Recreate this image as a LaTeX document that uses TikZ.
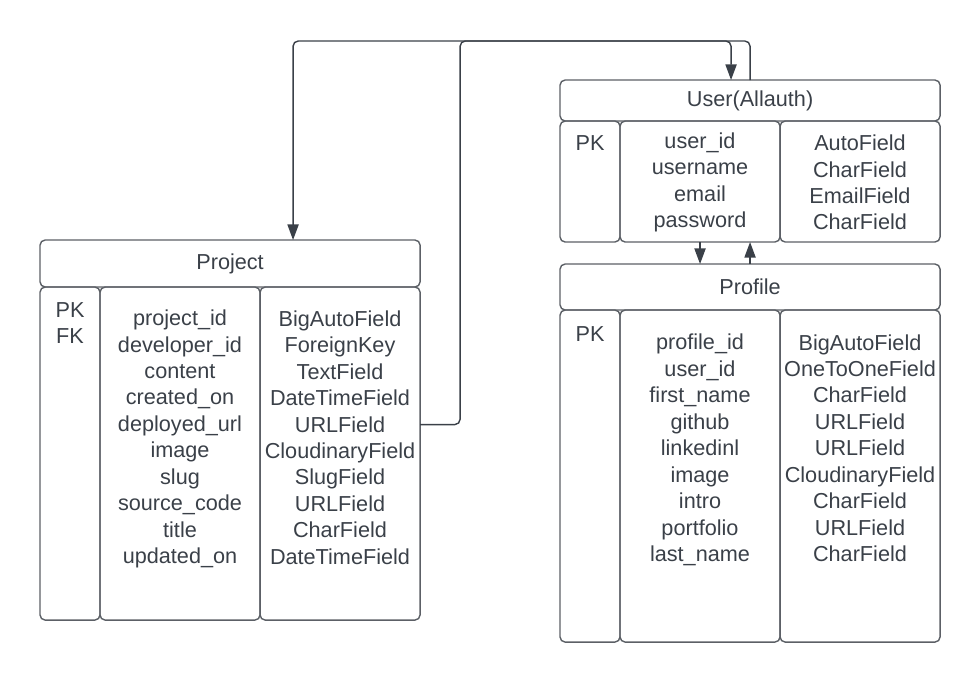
\documentclass[tikz,border=0pt]{standalone}
\usepackage{fontspec}
\setmainfont{Liberation Sans}
\usetikzlibrary{
  arrows.meta,
  positioning,  % right=of ...
  calc,         % $...$
}
\definecolor{ink}{RGB}{58,64,72}
\definecolor{rule}{RGB}{92,96,102}
\def\pkw{1.5cm}
\def\colw{4cm}
\def\tablew{9.5cm}
\tikzset{
  font=\fontsize{15.4pt}{18.8pt}\selectfont,
  text=ink,
  head/.style={
    draw=rule,
    line width=1pt,
    rounded corners=1.3mm,
    minimum width=\tablew,
    inner sep=0pt,
    outer sep=0pt
  },
  col/.style={
    draw=rule,
    line width=1pt,
    rounded corners=1.3mm,
    inner sep=0pt,
    outer sep=0pt
  },
  field text/.style={
    align=center,
    inner sep=0pt
  },
  link/.style={
    draw=ink,
    line width=1pt,
    rounded corners=1.3mm,
    -{Triangle[length=3.9mm,width=2.8mm]}
  }
}

\begin{document}
\begin{tikzpicture}[x=0.025cm,y=-0.025cm]
\useasboundingbox (0,0) rectangle (980,684);
% Project table
\node[head,minimum height=1.175cm,anchor=north west] (project) at (40,240) {Project};
\node[col,minimum width=\pkw,minimum height=8.325cm,anchor=north west] (proj pk) at (project.south west) {};
\node[col,minimum width=\colw,minimum height=8.325cm,right=0pt of proj pk] (proj name) {};
\node[col,minimum width=\colw,minimum height=8.325cm,right=0pt of proj name] (proj type) {};
\node[field text] (proj keys)  at (70,323)    {PK\\FK};
\node[field text] (proj names) at (180,439)   {project\_id\\developer\_id\\content\\created\_on\\deployed\_url\\image\\slug\\source\_code\\title\\updated\_on};
\node[field text] (proj types) at (340,437.5) {BigAutoField\\ForeignKey\\TextField\\DateTimeField\\URLField\\CloudinaryField\\SlugField\\URLField\\CharField\\DateTimeField};
% User table
\node[head,minimum height=1.025cm,anchor=north west] (user) at (560,80) {User(Allauth)};
\node[col,minimum width=\pkw,minimum height=3.025cm,anchor=north west] (user pk) at (user.south west) {};
\node[col,minimum width=\colw,minimum height=3.025cm,right=0pt of user pk] (user name) {};
\node[col,minimum width=\colw,minimum height=3.025cm,right=0pt of user name] (user type) {};
\node[field text] (user keys)  at (590,143)   {PK};
\node[field text] (user names) at (700,182.5) {user\_id\\username\\email\\password};
\node[field text] (user types) at (860,182.5) {AutoField\\CharField\\EmailField\\CharField};
% Profile table
\node[head,minimum height=1.15cm,anchor=north west] (profile) at (560,264) {Profile};
\node[col,minimum width=\pkw,minimum height=8.3cm,anchor=north west] (prof pk) at (profile.south west) {};
\node[col,minimum width=\colw,minimum height=8.3cm,right=0pt of prof pk] (prof name) {};
\node[col,minimum width=\colw,minimum height=8.3cm,right=0pt of prof name] (prof type) {};
\node[field text] (prof keys)  at (590,334) {PK};
\node[field text] (prof names) at (700,450) {profile\_id\\user\_id\\first\_name\\github\\linkedinl\\image\\intro\\portfolio\\last\_name};
\node[field text] (prof types) at (860,448) {BigAutoField\\OneToOneField\\CharField\\URLField\\URLField\\CloudinaryField\\CharField\\URLField\\CharField};
% Relations
\draw[link] (user.north) -- ++(0,-39) -| ($(project.north)+(63,0)$);
\draw[link] ($(proj type.east)+(0,-29)$) -- ++(40,0) |- ($(user.north)+(-19,-39)$) -- ($(user.north)+(-19,0)$);
\draw[link] (user name.south) -- (user name.south |- profile.north);
\draw[link] (profile.north) -- (profile.north |- user name.south);
\end{tikzpicture}
\end{document}
